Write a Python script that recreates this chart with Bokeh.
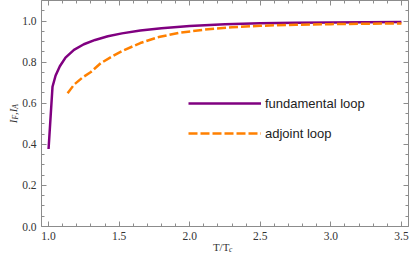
import math
from bokeh.plotting import figure
from bokeh.models import (Range1d, SingleIntervalTicker, LinearAxis, PrintfTickFormatter,
                          Label, Legend, LegendItem)
from bokeh.embed import file_html
from bokeh.resources import INLINE

# ---- data ----
T_fund = [1.0, 1.028, 1.05, 1.08, 1.12, 1.18, 1.25, 1.33, 1.42, 1.52, 1.65, 1.8,
          2.0, 2.25, 2.5, 2.75, 3.0, 3.25, 3.5]
I_fund = [0.377, 0.680, 0.735, 0.780, 0.822, 0.860, 0.887, 0.908, 0.926, 0.940,
          0.954, 0.965, 0.976, 0.984, 0.989, 0.992, 0.993, 0.994, 0.995]

T_adj = [1.135, 1.18, 1.24, 1.30, 1.37, 1.45, 1.53, 1.65, 1.78, 1.92, 2.1, 2.3,
         2.5, 2.75, 3.0, 3.25, 3.5]
I_adj = [0.648, 0.690, 0.725, 0.752, 0.795, 0.828, 0.857, 0.893, 0.922, 0.942,
         0.958, 0.970, 0.977, 0.982, 0.985, 0.987, 0.988]

series_labels = ["fundamental loop", "adjoint loop"]
x_tick_interval = 0.5
y_tick_interval = 0.2

GRAY = "#8c8c8c"
PURPLE = "#800080"
ORANGE = "#FF8000"

X0, X1 = 0.95, 3.55
Y0, Y1 = 0.0, 1.1
FW, FH = 367, 226
px_x = FW / (X1 - X0)
px_y = FH / (Y1 - Y0)

p = figure(frame_width=FW, frame_height=FH,
           x_range=Range1d(X0, X1), y_range=Range1d(Y0, Y1),
           x_axis_type=None, y_axis_type=None,
           output_backend="svg", toolbar_location=None,
           min_border_left=41, min_border_right=1, min_border_top=0, min_border_bottom=41)
p.outline_line_color = None
p.background_fill_color = "white"
p.border_fill_color = "white"
p.xgrid.visible = False
p.ygrid.visible = False


def make_axis(ticker, show_labels):
    ax = LinearAxis(ticker=ticker)
    ax.axis_line_color = GRAY
    ax.axis_line_width = 1
    ax.major_tick_line_color = GRAY
    ax.minor_tick_line_color = GRAY
    ax.major_tick_in = 5
    ax.major_tick_out = 0
    ax.minor_tick_in = 3
    ax.minor_tick_out = 0
    if show_labels:
        ax.formatter = PrintfTickFormatter(format="%.1f")
        ax.major_label_text_font = "Liberation Serif"
        ax.major_label_text_font_size = "11.5px"
        ax.major_label_text_color = "#333333"
        ax.major_label_standoff = 5
    else:
        ax.formatter = PrintfTickFormatter(format="")
        ax.major_label_text_font_size = "0px"
        ax.major_label_standoff = 0
    return ax


xt = lambda: SingleIntervalTicker(interval=x_tick_interval, num_minor_ticks=5)
yt = lambda: SingleIntervalTicker(interval=y_tick_interval, num_minor_ticks=4)

p.add_layout(make_axis(xt(), True), "below")
p.add_layout(make_axis(yt(), True), "left")
p.add_layout(make_axis(xt(), False), "above")
p.add_layout(make_axis(yt(), False), "right")

r1 = p.line(T_fund, I_fund, line_color=PURPLE, line_width=2.5)
r2 = p.line(T_adj, I_adj, line_color=ORANGE, line_width=2.5, line_dash="9 3")

legend = Legend(items=[LegendItem(label=series_labels[0], renderers=[r1]),
                       LegendItem(label=series_labels[1], renderers=[r2])],
                location=(147, 83), glyph_width=73, glyph_height=20, label_height=20,
                spacing=10, padding=0, margin=0, label_standoff=4,
                border_line_alpha=0, background_fill_alpha=0,
                label_text_font="Liberation Sans", label_text_font_size="13px",
                label_text_color="#222222")
p.add_layout(legend)

# ---- axis titles: main text + subscript line, positioned in px from the frame ----
SERIF = "Liberation Serif"
def lab(text, dx, dy, size, style="italic", angle=0.0):
    # dx: px right of frame left edge, dy: px above frame bottom edge
    return Label(text=text, x=X0 + dx / px_x, y=Y0 + dy / px_y,
                 text_font=SERIF, text_font_size=size, text_font_style=style,
                 text_color="#333333", angle=angle, text_align="left",
                 text_baseline="alphabetic")

rot = math.pi / 2
yl = -29
ys = 103.3
# "I_F, I_A": main glyphs "I ,I" with gaps left for the subscripts
p.add_layout(lab("I \u2006,I", yl, ys, "11px", angle=rot), "below")
p.add_layout(lab("F\u2002\u2004A", yl + 3, ys + 3.7, "7.5px", angle=rot), "below")

xl = -20
# "T/T_c"
p.add_layout(lab("T/T", 171.4, xl, "11px", style="normal"), "below")
p.add_layout(lab("c", 187.6, xl - 3, "7.5px"), "below")

open("out.html", "w").write(file_html(p, INLINE))
